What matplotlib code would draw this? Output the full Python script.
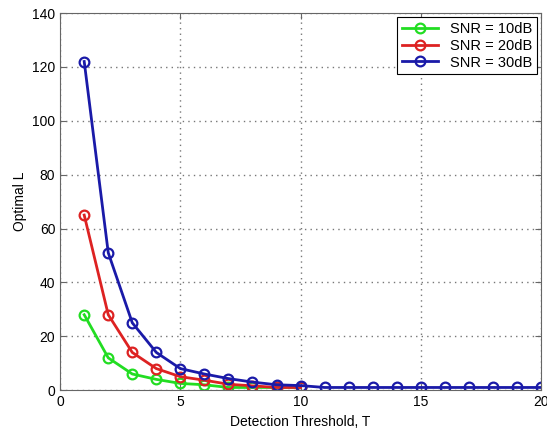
import numpy as np
import matplotlib
matplotlib.use('Agg')
import matplotlib.pyplot as plt

plt.rcParams['font.family'] = ['Liberation Sans', 'DejaVu Sans']

T_long = list(range(1, 21))  # thresholds for SNR = 30dB
T_short = list(range(1, 11))  # thresholds for SNR = 10dB / 20dB

snr10 = [28, 12, 6, 4, 2.5, 2, 1, 1, 1, 1]
snr20 = [65, 28, 14, 8, 5, 3.7, 2.2, 1.6, 1, 1]
snr30 = [122, 51, 25, 14, 8, 6, 4.3, 3, 2, 1.7, 1, 1, 1, 1, 1, 1, 1, 1, 1, 1]

fig = plt.figure(figsize=(5.47, 4.34), dpi=100)
ax = fig.add_axes([0.110, 0.101, 0.879, 0.869])

mk = dict(marker='o', markerfacecolor='none', markersize=7, markeredgewidth=1.6, linewidth=2)
ax.plot(T_short, snr10, color='#22dd22', label='SNR = 10dB', **mk)
ax.plot(T_short, snr20, color='#dd2222', label='SNR = 20dB', **mk)
ax.plot(T_long, snr30, color='#1a1aa8', label='SNR = 30dB', **mk)

ax.set_xlim(0, 20)
ax.set_ylim(0, 140)
ax.set_xticks([0, 5, 10, 15, 20])
ax.set_yticks(np.arange(0, 141, 20))
ax.grid(True, linestyle=(0, (1, 3)), color='#777777', linewidth=1.0)
ax.tick_params(labelsize=10, direction='in', length=4, color='#666666',
               top=True, right=True)
for s in ax.spines.values():
    s.set_color('#666666')
ax.set_xlabel('Detection Threshold, T', fontsize=10)
ax.set_ylabel('Optimal L', fontsize=10)

leg = ax.legend(loc='upper right', fontsize=10.5, fancybox=False, framealpha=1,
                edgecolor='black', handlelength=2.5, borderpad=0.3, labelspacing=0.2,
                borderaxespad=0.3)
leg.get_frame().set_linewidth(0.8)

fig.savefig('out.png', dpi=100)
